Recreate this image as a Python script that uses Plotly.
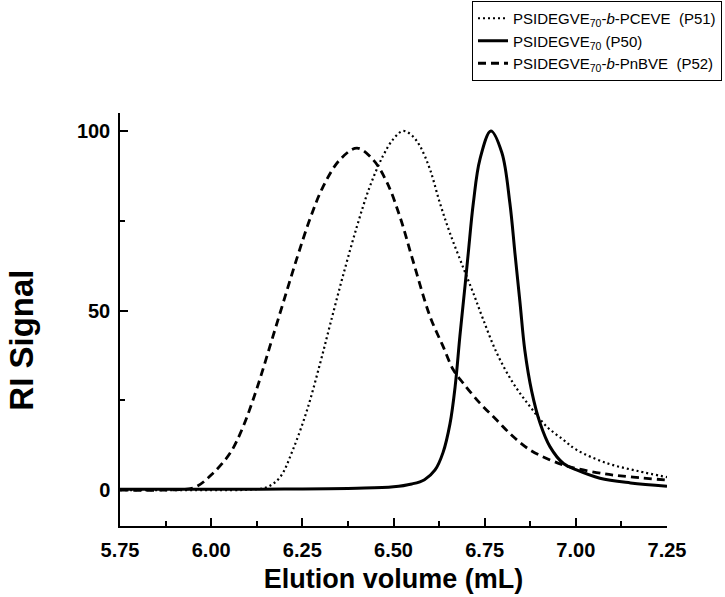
import plotly.graph_objects as go

# ---- data ----
x_p51 = [5.75, 6.0, 6.1, 6.153, 6.189, 6.224, 6.263, 6.298, 6.326, 6.361, 6.40, 6.435, 6.471, 6.50, 6.526,
         6.55, 6.573, 6.60, 6.627, 6.655, 6.691, 6.719, 6.746, 6.783, 6.828, 6.874, 6.92, 6.966, 7.002,
         7.085, 7.17, 7.25]
y_p51 = [0.0, 0.0, 0.1, 0.8, 3.6, 11.2, 22.3, 35.0, 46.0, 59.5, 73.5, 84.5, 93.0, 97.8, 100.0,
         98.8, 95.7, 89.3, 80.0, 71.5, 62.0, 54.8, 47.5, 38.2, 29.8, 23.3, 17.7, 14.0, 11.2,
         7.5, 5.3, 3.6]

x_p50 = [5.75, 6.0, 6.2, 6.4, 6.5, 6.55, 6.585, 6.614, 6.636, 6.655, 6.669, 6.682, 6.696, 6.705, 6.719,
         6.737, 6.767, 6.797, 6.819, 6.833, 6.847, 6.860, 6.879, 6.902, 6.929, 6.966, 7.002, 7.066,
         7.15, 7.25]
y_p50 = [0.2, 0.2, 0.3, 0.5, 0.9, 1.7, 2.9, 5.6, 10.5, 18.5, 28.8, 42.8, 56.7, 66.0, 80.0,
         92.1, 100.0, 94.0, 80.0, 66.0, 52.1, 39.0, 27.5, 18.6, 12.1, 7.4, 5.6, 3.3,
         2.0, 1.1]

x_p52 = [5.75, 5.9, 5.956, 6.005, 6.052, 6.087, 6.126, 6.161, 6.197, 6.235, 6.271, 6.307, 6.353, 6.40,
         6.444, 6.482, 6.518, 6.553, 6.60, 6.636, 6.664, 6.691, 6.737, 6.783, 6.828, 6.874, 6.92,
         6.966, 7.002, 7.08, 7.157, 7.25]
y_p52 = [0.0, 0.1, 0.8, 4.7, 10.3, 17.5, 28.5, 40.0, 52.0, 64.5, 75.5, 84.5, 92.0, 95.2,
         92.0, 85.7, 76.0, 64.0, 48.4, 40.0, 33.5, 29.8, 24.2, 19.5, 14.9, 11.2, 8.8,
         7.0, 6.0, 4.5, 3.6, 2.8]

names = ["PSIDEGVE<sub>70</sub>-<i>b</i>-PCEVE  (P51)",
         "PSIDEGVE<sub>70</sub> (P50)",
         "PSIDEGVE<sub>70</sub>-<i>b</i>-PnBVE  (P52)"]

x_ticks = [5.75, 6.00, 6.25, 6.50, 6.75, 7.00, 7.25]
x_minor = [5.875, 6.125, 6.375, 6.625, 6.875, 7.125]
y_ticks = [0, 50, 100]
y_minor = [25, 75]

FONT = "Liberation Sans, Arial, sans-serif"

fig = go.Figure()
fig.add_trace(go.Scatter(x=x_p51, y=y_p51, mode="lines", name=names[0], line_shape="spline",
                         line=dict(color="black", width=2.2, dash="2px,3px")))
fig.add_trace(go.Scatter(x=x_p50, y=y_p50, mode="lines", name=names[1], line_shape="spline",
                         line=dict(color="black", width=3)))
fig.add_trace(go.Scatter(x=x_p52, y=y_p52, mode="lines", name=names[2], line_shape="spline",
                         line=dict(color="black", width=2.8, dash="8px,5px")))

axis_common = dict(showline=True, linecolor="black", linewidth=1.5, mirror=False,
                   ticks="inside", ticklen=8, tickwidth=1.5, tickcolor="black",
                   showgrid=False, zeroline=False, automargin=False,
                   tickfont=dict(family=FONT, size=20, color="black", weight="bold"),
                   title_font=dict(family=FONT, color="black", weight="bold"))

fig.update_xaxes(range=[5.75, 7.25], tickvals=x_ticks, ticktext=[f"{v:.2f}" for v in x_ticks],
                 minor=dict(tickvals=x_minor, ticklen=5, tickwidth=1.5, ticks="inside", tickcolor="black"),
                 title=dict(text="Elution volume (mL)", standoff=9, font=dict(size=27)),
                 ticklabelstandoff=5, **axis_common)
fig.update_yaxes(range=[-10, 105], tickvals=y_ticks, ticktext=[str(v) for v in y_ticks],
                 minor=dict(tickvals=y_minor, ticklen=5, tickwidth=1.5, ticks="inside", tickcolor="black"),
                 ticklabelstandoff=4, **axis_common)

fig.add_annotation(text="<b>RI Signal</b>", xref="paper", yref="paper",
                   x=-0.18, y=0.45, xanchor="center", yanchor="middle", textangle=-90,
                   showarrow=False, font=dict(family=FONT, size=33, color="black"))

fig.update_layout(
    width=725, height=597,
    margin=dict(l=120, r=58, t=113, b=71, autoexpand=False),
    plot_bgcolor="white", paper_bgcolor="white",
    font=dict(family=FONT, color="black"),
    legend=dict(xref="container", yref="container", x=472 / 725, y=1 - 1 / 597,
                xanchor="left", yanchor="top",
                bordercolor="black", borderwidth=1, bgcolor="white",
                font=dict(family=FONT, size=15, color="black"),
                tracegroupgap=0, itemwidth=30),
    showlegend=True,
)

fig.write_html("out.html")
